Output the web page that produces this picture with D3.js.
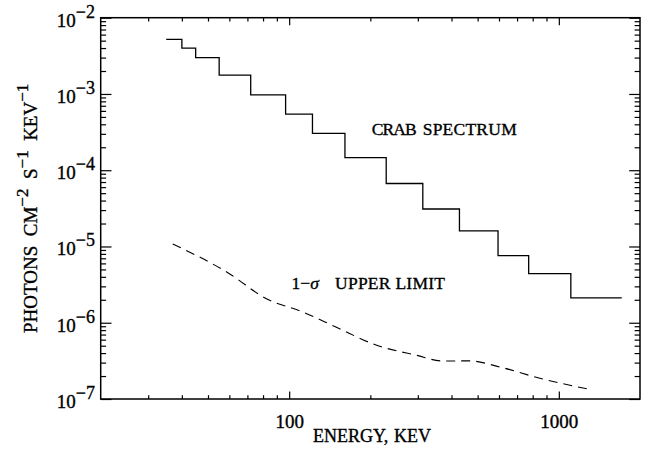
<!DOCTYPE html>
<html>
<head>
<meta charset="utf-8">
<script src="https://cdn.jsdelivr.net/npm/d3@7/dist/d3.min.js"></script>
<style>
  html, body { margin: 0; padding: 0; background: #fff; }
  svg { display: block; }
  text { font-family: "Liberation Serif", "Times New Roman", serif; fill: #000;
         stroke: #000; stroke-width: 0.35px; }
</style>
</head>
<body>
<svg id="chart" width="652" height="451"></svg>
<script>
// Crab spectrum: bin edges (keV) and flux per bin
const crabEdges = [35, 40, 45, 55, 72, 97, 122, 161, 229, 313, 428, 595, 773, 1108, 1711];
const crabFlux = [5.2e-3, 4.0e-3, 3.0e-3, 1.77e-3, 9.7e-4, 5.45e-4, 3.04e-4, 1.46e-4,
                  6.7e-5, 3.1e-5, 1.6e-5, 7.6e-6, 4.4e-6, 2.12e-6];

// 1-sigma upper limit curve
const limitEnergy = [37, 60, 82, 112, 149, 210, 296, 371, 467, 604, 850, 1300];
const limitFlux = [1.08e-5, 4.4e-6, 2.08e-6, 1.39e-6, 8.8e-7, 5.1e-7, 3.75e-7, 3.15e-7,
                   3.16e-7, 2.63e-7, 1.87e-7, 1.34e-7];

// Axis ticks
const xMajor = [100, 1000];
const xMinor = [30, 40, 50, 60, 70, 80, 90, 200, 300, 400, 500, 600, 700, 800, 900];
const yExponents = [-7, -6, -5, -4, -3, -2];

const plot = { left: 100.7, right: 640, top: 17.7, bottom: 399 };

const svg = d3.select("#chart");
const x = d3.scaleLog().domain([20, 2000]).range([plot.left, plot.right]);
const y = d3.scaleLog().domain([1e-7, 1e-2]).range([plot.bottom, plot.top]);

const yMajor = yExponents.map(e => Math.pow(10, e));
const yMinor = [];
yExponents.slice(0, -1).forEach(e => {
  for (let m = 2; m <= 9; m++) yMinor.push(m * Math.pow(10, e));
});

const majX = 7.6, minX = 3.8, majY = 10.8, minY = 5.4;

function styleAxis(g) {
  g.select(".domain").remove();
  g.selectAll(".tick line").attr("stroke", "#000").attr("stroke-width", 1.2);
}

// bottom & top ticks (pointing inward)
svg.append("g").attr("transform", `translate(0,${plot.bottom})`)
  .call(d3.axisBottom(x).tickValues(xMajor).tickSizeInner(-majX).tickSizeOuter(0)
        .tickFormat(d3.format("d")))
  .call(styleAxis)
  .call(g => g.selectAll("text").attr("font-size", 19).attr("dy", null).attr("y", 29));
svg.append("g").attr("transform", `translate(0,${plot.bottom})`)
  .call(d3.axisBottom(x).tickValues(xMinor).tickSizeInner(-minX).tickSizeOuter(0).tickFormat(""))
  .call(styleAxis);
svg.append("g").attr("transform", `translate(0,${plot.top})`)
  .call(d3.axisTop(x).tickValues(xMajor).tickSizeInner(-majX).tickSizeOuter(0).tickFormat(""))
  .call(styleAxis);
svg.append("g").attr("transform", `translate(0,${plot.top})`)
  .call(d3.axisTop(x).tickValues(xMinor).tickSizeInner(-minX).tickSizeOuter(0).tickFormat(""))
  .call(styleAxis);

// left & right ticks
svg.append("g").attr("transform", `translate(${plot.left},0)`)
  .call(d3.axisLeft(y).tickValues(yMajor).tickSizeInner(-majY).tickSizeOuter(0).tickFormat(""))
  .call(styleAxis);
svg.append("g").attr("transform", `translate(${plot.left},0)`)
  .call(d3.axisLeft(y).tickValues(yMinor).tickSizeInner(-minY).tickSizeOuter(0).tickFormat(""))
  .call(styleAxis);
svg.append("g").attr("transform", `translate(${plot.right},0)`)
  .call(d3.axisRight(y).tickValues(yMajor).tickSizeInner(-majY).tickSizeOuter(0).tickFormat(""))
  .call(styleAxis);
svg.append("g").attr("transform", `translate(${plot.right},0)`)
  .call(d3.axisRight(y).tickValues(yMinor).tickSizeInner(-minY).tickSizeOuter(0).tickFormat(""))
  .call(styleAxis);

// y tick labels: 10 with superscript exponent
const yLab = svg.append("g");
yExponents.forEach(e => {
  const t = yLab.append("text")
    .attr("x", 95).attr("y", y(Math.pow(10, e)) + 9)
    .attr("text-anchor", "end").attr("font-size", 19);
  t.append("tspan").text("10");
  t.append("tspan").attr("dy", -9).attr("font-size", 18).text("\u2212" + Math.abs(e));
});

// frame
svg.append("rect")
  .attr("x", plot.left).attr("y", plot.top)
  .attr("width", plot.right - plot.left).attr("height", plot.bottom - plot.top)
  .attr("fill", "none").attr("stroke", "#000").attr("stroke-width", 1.5);

// Crab spectrum as a histogram step line
const stepPts = [];
crabFlux.forEach((f, i) => {
  stepPts.push([crabEdges[i], f]);
  stepPts.push([crabEdges[i + 1], f]);
});
svg.append("path")
  .datum(stepPts)
  .attr("fill", "none").attr("stroke", "#000").attr("stroke-width", 1.3)
  .attr("d", d3.line().x(d => x(d[0])).y(d => y(d[1])));

// upper limit dashed curve
svg.append("path")
  .datum(limitEnergy.map((e, i) => [e, limitFlux[i]]))
  .attr("fill", "none").attr("stroke", "#000").attr("stroke-width", 1.1)
  .attr("stroke-dasharray", "9,6")
  .attr("d", d3.line().curve(d3.curveMonotoneX).x(d => x(d[0])).y(d => y(d[1])));

// annotations
const crab = svg.append("text").attr("y", 135).attr("font-size", 17.5);
crab.append("tspan").attr("x", 371.7).attr("textLength", 45).text("CRAB");
crab.append("tspan").attr("x", 422.7).attr("textLength", 94).text("SPECTRUM");

const ul = svg.append("text").attr("y", 289).attr("font-size", 17.5);
ul.append("tspan").attr("x", 291.5).text("1\u2212");
ul.append("tspan").attr("font-style", "italic").text("\u03c3");
ul.append("tspan").attr("x", 335).attr("textLength", 110).text("UPPER LIMIT");

// axis titles
const xt = svg.append("text").attr("y", 442).attr("font-size", 18);
xt.append("tspan").attr("x", 313).text("ENERGY,");
xt.append("tspan").attr("x", 394).text("KEV");

const yt = svg.append("text")
  .attr("transform", `translate(37,${(plot.top + plot.bottom) / 2}) rotate(-90)`)
  .attr("text-anchor", "middle").attr("font-size", 19)
  .attr("xml:space", "preserve");
yt.append("tspan").text("PHOTONS  CM");
yt.append("tspan").attr("dy", -9).attr("font-size", 17).text("\u22122");
yt.append("tspan").attr("dy", 9).text("  S");
yt.append("tspan").attr("dy", -9).attr("font-size", 17).text("\u22121");
yt.append("tspan").attr("dy", 9).text("  KEV");
yt.append("tspan").attr("dy", -9).attr("font-size", 17).text("\u22121");
</script>
</body>
</html>
